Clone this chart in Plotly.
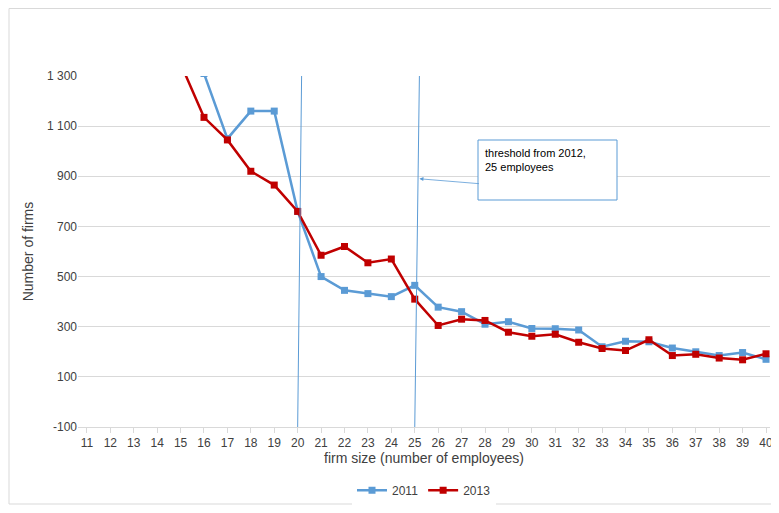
import plotly.graph_objects as go

sizes = list(range(11, 41))
firms_2011 = [2100, 1900, 1750, 1600, 1450, 1310, 1050, 1160, 1160, 760, 500, 445, 432, 420, 465, 378, 360, 310, 320, 293, 292, 287, 220, 242, 240, 215, 200, 185, 197, 170]
firms_2013 = [1900, 1750, 1600, 1480, 1350, 1135, 1045, 920, 865, 760, 585, 620, 555, 570, 410, 305, 330, 325, 278, 262, 270, 238, 213, 205, 248, 185, 190, 175, 168, 192]
y_ticks = [-100, 100, 300, 500, 700, 900, 1100, 1300]
y_labels = ["-100", "100", "300", "500", "700", "900", "1 100", "1 300"]

fig = go.Figure()
fig.add_trace(go.Scatter(x=sizes, y=firms_2011, name="2011", mode="lines+markers",
                         line=dict(color="#5B9BD5", width=2.5), marker=dict(symbol="square", size=7)))
fig.add_trace(go.Scatter(x=sizes, y=firms_2013, name="2013", mode="lines+markers",
                         line=dict(color="#C00000", width=2.5), marker=dict(symbol="square", size=7)))

for x0, x1 in [(20, 20.17), (25, 25.2)]:
    fig.add_shape(type="line", x0=x0, x1=x1, y0=-100, y1=1310, xref="x", yref="y",
                  line=dict(color="#5B9BD5", width=1))

fig.add_annotation(x=25.2, y=890, ax=61, ay=5, axref="pixel", ayref="pixel",
                   xref="x", yref="y", showarrow=True, arrowhead=2, arrowsize=1, arrowwidth=0.8,
                   arrowcolor="#5B9BD5", text="")
fig.add_shape(type="rect", xref="paper", yref="paper",
              x0=(478-78)/692, x1=(617-78)/692, y0=(427-200)/351, y1=(427-140)/351,
              line=dict(color="#5B9BD5", width=1), fillcolor="white")
fig.add_annotation(xref="paper", yref="paper", x=(483-78)/692, y=(427-160)/351,
                   xanchor="left", yanchor="middle", showarrow=False, align="left",
                   text="threshold from 2012,<br>25 employees", font=dict(size=11, color="#000"))

fig.add_shape(type="rect", xref="paper", yref="paper", x0=-69/692, x1=(769-70)/692,
              y0=-77/351, y1=(419-0.5)/351, line=dict(color="#d9d9d9", width=1))

fig.update_layout(
    width=771, height=497, margin=dict(l=70, r=9, t=68, b=78, autoexpand=False),
    plot_bgcolor="white", paper_bgcolor="white",
    font=dict(family="Liberation Sans, Open Sans", size=12, color="#404040"),
    xaxis=dict(range=[10.62, 40.17], tickvals=sizes, showgrid=False, zeroline=False, automargin=False,
               showline=True, linecolor="#d9d9d9", ticks="outside", tickcolor="#d9d9d9", ticklen=5,
               title=dict(text="firm size (number of employees)", standoff=0)),
    yaxis=dict(range=[-100, 1300], tickvals=y_ticks, ticktext=y_labels, gridcolor="#d9d9d9",
               zeroline=False, automargin=False, title=dict(text="Number of firms", standoff=10)),
    legend=dict(orientation="h", x=0.5, xanchor="center", y=-0.18, yanchor="middle"),
)
fig.write_html("out.html")
